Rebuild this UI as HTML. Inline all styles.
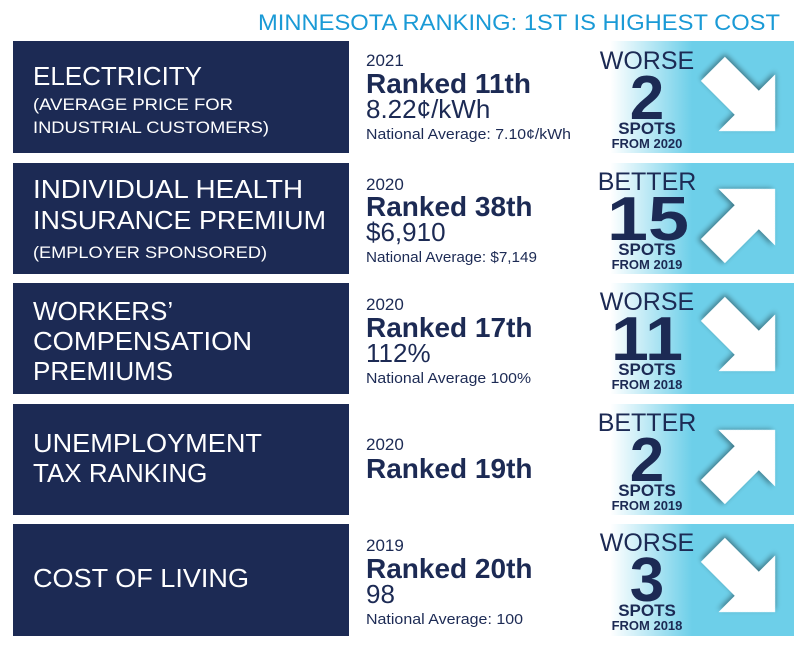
<!DOCTYPE html>
<html><head><meta charset="utf-8"><style>
body{margin:0;background:#fff}
text{font-family:"Liberation Sans",sans-serif}
</style></head><body>
<svg width="797" height="656" viewBox="0 0 797 656" xmlns="http://www.w3.org/2000/svg">
<defs>
<linearGradient id="g" x1="0" x2="1" y1="0" y2="0">
<stop offset="0" stop-color="#ffffff"/>
<stop offset="0.1" stop-color="#ffffff"/>
<stop offset="0.5" stop-color="#6dcfe9"/>
<stop offset="1" stop-color="#6dcfe9"/>
</linearGradient>
<filter id="sh" x="-30%" y="-30%" width="160%" height="160%">
<feGaussianBlur in="SourceAlpha" stdDeviation="3"/>
<feOffset dx="-2" dy="-2"/>
<feComponentTransfer><feFuncA type="linear" slope="0.45"/></feComponentTransfer>
<feMerge><feMergeNode/><feMergeNode in="SourceGraphic"/></feMerge>
</filter>
<polygon id="arr" points="-44,-17 4,-17 4,-40 44,0 4,40 4,17 -44,17" fill="#fff" filter="url(#sh)"/>
</defs>
<text x="780" y="30" text-anchor="end" font-size="22" fill="#1a9ad6" textLength="522" lengthAdjust="spacingAndGlyphs">MINNESOTA RANKING: 1ST IS HIGHEST COST</text>

<g fill="#1c2a54">
<rect x="13" y="41" width="336" height="112"/>
<rect x="13" y="163" width="336" height="111"/>
<rect x="13" y="283" width="336" height="111"/>
<rect x="13" y="404" width="336" height="111"/>
<rect x="13" y="524" width="336" height="112"/>
</g>
<g fill="url(#g)">
<rect x="590" y="41" width="204" height="112"/>
<rect x="590" y="163" width="204" height="111"/>
<rect x="590" y="283" width="204" height="111"/>
<rect x="590" y="404" width="204" height="111"/>
<rect x="590" y="524" width="204" height="112"/>
</g>
<use href="#arr" transform="translate(744,100) rotate(45)"/>
<use href="#arr" transform="translate(744,220) rotate(-45)"/>
<use href="#arr" transform="translate(744,340) rotate(45)"/>
<use href="#arr" transform="translate(744,461) rotate(-45)"/>
<use href="#arr" transform="translate(744,581) rotate(45)"/>

<g fill="#fff" font-size="26">
<text x="33" y="85">ELECTRICITY</text>
<text x="33" y="110" font-size="17" textLength="200" lengthAdjust="spacingAndGlyphs">(AVERAGE PRICE FOR</text>
<text x="33" y="133" font-size="17" textLength="236" lengthAdjust="spacingAndGlyphs">INDUSTRIAL CUSTOMERS)</text>
<text x="33" y="198" textLength="270" lengthAdjust="spacingAndGlyphs">INDIVIDUAL HEALTH</text>
<text x="33" y="229" textLength="293" lengthAdjust="spacingAndGlyphs">INSURANCE PREMIUM</text>
<text x="33" y="258" font-size="17" textLength="234" lengthAdjust="spacingAndGlyphs">(EMPLOYER SPONSORED)</text>
<text x="33" y="320">WORKERS’</text>
<text x="33" y="350" textLength="219" lengthAdjust="spacingAndGlyphs">COMPENSATION</text>
<text x="33" y="380">PREMIUMS</text>
<text x="33" y="452" textLength="229" lengthAdjust="spacingAndGlyphs">UNEMPLOYMENT</text>
<text x="33" y="482">TAX RANKING</text>
<text x="33" y="587" textLength="216" lengthAdjust="spacingAndGlyphs">COST OF LIVING</text>
</g>

<g fill="#1c2a54">
<text x="366" y="66" font-size="17">2021</text>
<text x="366" y="93" font-size="28" font-weight="bold">Ranked 11th</text>
<text x="366" y="118" font-size="26">8.22¢/kWh</text>
<text x="366" y="139" font-size="14.6" textLength="205" lengthAdjust="spacingAndGlyphs">National Average: 7.10¢/kWh</text>

<text x="366" y="190" font-size="17">2020</text>
<text x="366" y="216" font-size="28" font-weight="bold">Ranked 38th</text>
<text x="366" y="241" font-size="26">$6,910</text>
<text x="366" y="262" font-size="14.6" textLength="171" lengthAdjust="spacingAndGlyphs">National Average: $7,149</text>

<text x="366" y="310" font-size="17">2020</text>
<text x="366" y="337" font-size="28" font-weight="bold">Ranked 17th</text>
<text x="366" y="362" font-size="26">112%</text>
<text x="366" y="383" font-size="14.6" textLength="165" lengthAdjust="spacingAndGlyphs">National Average 100%</text>

<text x="366" y="450" font-size="17">2020</text>
<text x="366" y="478" font-size="28" font-weight="bold">Ranked 19th</text>

<text x="366" y="551" font-size="17">2019</text>
<text x="366" y="578" font-size="28" font-weight="bold">Ranked 20th</text>
<text x="366" y="603" font-size="26">98</text>
<text x="366" y="624" font-size="14.6" textLength="157" lengthAdjust="spacingAndGlyphs">National Average: 100</text>
</g>

<g fill="#1c2a54" text-anchor="middle">
<text x="647" y="69" font-size="25">WORSE</text>
<text x="647" y="119" font-size="62" font-weight="bold">2</text>
<text x="647" y="134" font-size="17" font-weight="bold">SPOTS</text>
<text x="647" y="148" font-size="13" font-weight="bold">FROM 2020</text>

<text x="647" y="190" font-size="25">BETTER</text>
<text x="648" y="240" font-size="62" font-weight="bold" textLength="82" lengthAdjust="spacingAndGlyphs">15</text>
<text x="647" y="255" font-size="17" font-weight="bold">SPOTS</text>
<text x="647" y="269" font-size="13" font-weight="bold">FROM 2019</text>

<text x="647" y="310" font-size="25">WORSE</text>
<text x="647" y="360" font-size="62" font-weight="bold" textLength="72" lengthAdjust="spacingAndGlyphs">11</text>
<text x="647" y="375" font-size="17" font-weight="bold">SPOTS</text>
<text x="647" y="389" font-size="13" font-weight="bold">FROM 2018</text>

<text x="647" y="431" font-size="25">BETTER</text>
<text x="647" y="481" font-size="62" font-weight="bold">2</text>
<text x="647" y="496" font-size="17" font-weight="bold">SPOTS</text>
<text x="647" y="510" font-size="13" font-weight="bold">FROM 2019</text>

<text x="647" y="551" font-size="25">WORSE</text>
<text x="647" y="601" font-size="62" font-weight="bold">3</text>
<text x="647" y="616" font-size="17" font-weight="bold">SPOTS</text>
<text x="647" y="630" font-size="13" font-weight="bold">FROM 2018</text>
</g>
</svg>
</body></html>
